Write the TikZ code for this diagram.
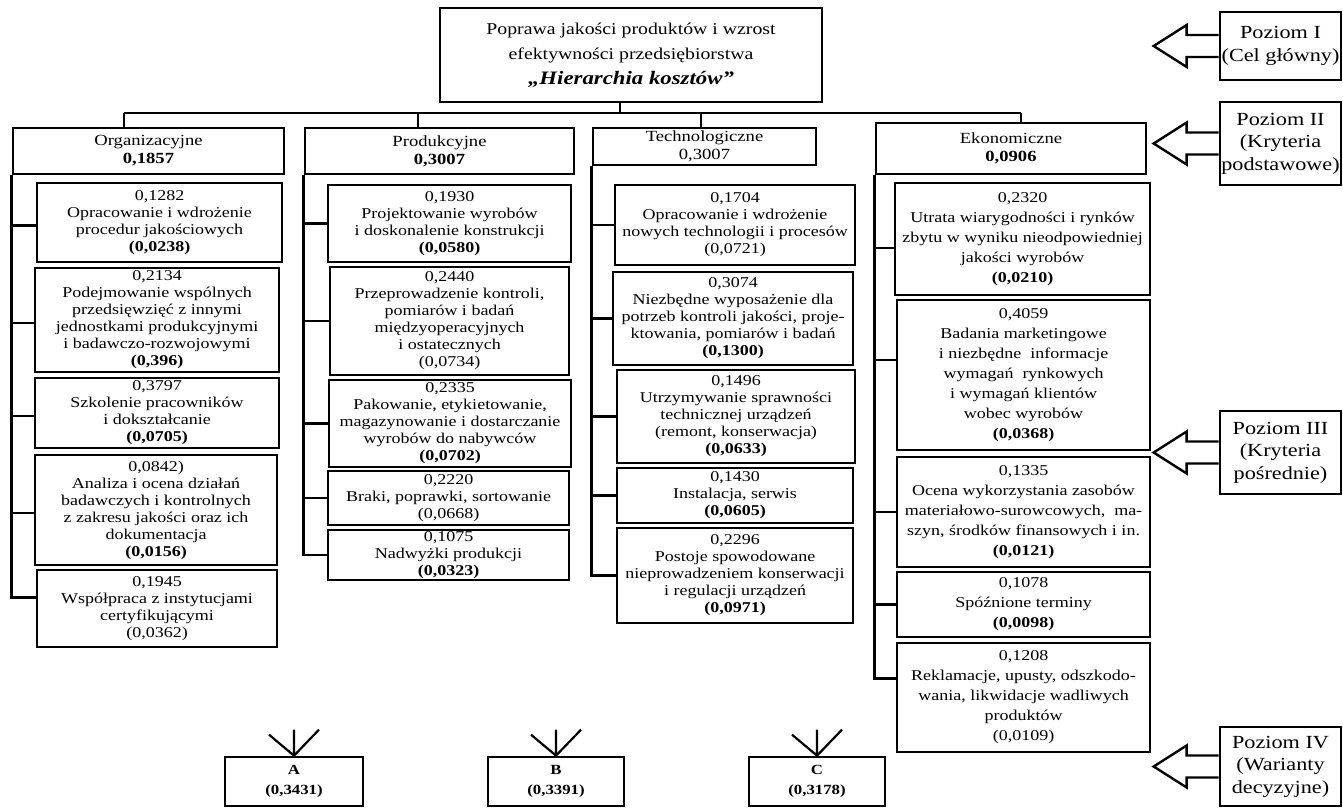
\documentclass[tikz,border=0pt]{standalone}
\usepackage{fontspec}
\setmainfont{Liberation Serif}[FakeStretch=1.2]
% box from (left,top) to (right,bottom) in picture units, with style, name and text
\newcommand\cellbox[7]{\node[#1, minimum width={#4-#2}, minimum height={#5-#3}] (#6) at ({(#2+#4)/2},{(#3+#5)/2}) {#7};}
\begin{document}
\begin{tikzpicture}[x=1pt,y=-1pt,
  box/.style={draw, line width=2.7pt, inner sep=1pt, align=center, fill=white},
  lthree/.style={box, font=\fontsize{15}{17}\selectfont},
  lthreeE/.style={box, font=\fontsize{15}{20}\selectfont},
  ltwo/.style={box, font=\fontsize{15.5}{18}\selectfont},
  lvl/.style={box, inner sep=0pt, font=\fontsize{18.5}{22.5}\selectfont},
  alt/.style={box, font=\fontsize{14}{20}\selectfont\bfseries},
  conn/.style={line width=2.5pt},
  hollow/.style={draw, line width=2.4pt, fill=white, line join=miter},
  vmark/.style={line width=2.2pt}]
\useasboundingbox (0,0) rectangle (1343,810);

% ---- goal ----
\cellbox{box, font=\fontsize{16.5}{25}\selectfont}{440}{8}{822}{102}{goal}{Poprawa jakości produktów i wzrost\\ efektywności przedsiębiorstwa\\ {\fontsize{19}{21}\selectfont\bfseries\itshape „Hierarchia kosztów”}}

% ---- main criteria ----
\cellbox{ltwo}{13}{128}{284}{174}{org}{Organizacyjne\\ \textbf{0,1857}}
\cellbox{ltwo}{305}{128}{574}{174}{prod}{Produkcyjne\\ \textbf{0,3007}}
\cellbox{ltwo}{593}{128}{816}{165}{tech}{Technologiczne\\ 0,3007}
\cellbox{ltwo}{876}{123}{1146}{174}{ekon}{Ekonomiczne\\ \textbf{0,0906}}

% ---- bus from the goal to the main criteria ----
\coordinate (busL) at (124,113);
\coordinate (busR) at (1021,113);
\draw[conn] (busL) -- (busR);
\draw[conn] ([xshift=-11pt]goal.south) -- ([xshift=-11pt]goal.south |- busL);
\draw[conn] ([xshift=-24.5pt]org.north) -- ([xshift=-24.5pt]org.north |- busL);
\draw[conn] ([xshift=-21.5pt]prod.north) -- ([xshift=-21.5pt]prod.north |- busL);
\draw[conn] ([xshift=-3.5pt]tech.north) -- ([xshift=-3.5pt]tech.north |- busL);
\draw[conn] ([xshift=10pt]ekon.north) -- ([xshift=10pt]ekon.north |- busL);

% ---- organisational sub-criteria ----
\cellbox{lthree}{37}{183}{282}{262}{o1}{0,1282\\ Opracowanie i wdrożenie\\ procedur jakościowych\\ \textbf{(0,0238)}}
\cellbox{lthree}{35}{268}{279}{372}{o2}{0,2134\\ Podejmowanie wspólnych\\ przedsięwzięć z innymi\\ jednostkami produkcyjnymi\\ i badawczo-rozwojowymi\\ \textbf{(0,396)}}
\cellbox{lthree}{35}{378}{279}{448}{o3}{0,3797\\ Szkolenie pracowników\\ i dokształcanie\\ \textbf{(0,0705)}}
\cellbox{lthree}{35}{455}{277}{565}{o4}{0,0842)\\ Analiza i ocena działań\\ badawczych i kontrolnych\\ z zakresu jakości oraz ich\\ dokumentacja\\ \textbf{(0,0156)}}
\cellbox{lthree}{37}{570}{277}{647}{o5}{0,1945\\ Współpraca z instytucjami\\ certyfikującymi\\ (0,0362)}

% ---- production sub-criteria ----
\cellbox{lthree}{328}{185}{571}{262}{p1}{0,1930\\ Projektowanie wyrobów\\ i doskonalenie konstrukcji\\ \textbf{(0,0580)}}
\cellbox{lthree}{330}{267}{569}{375}{p2}{0,2440\\ Przeprowadzenie kontroli,\\ pomiarów i badań\\ międzyoperacyjnych\\ i ostatecznych\\ (0,0734)}
\cellbox{lthree}{329}{380}{571}{467}{p3}{0,2335\\ Pakowanie, etykietowanie,\\ magazynowanie i dostarczanie\\ wyrobów do nabywców\\ \textbf{(0,0702)}}
\cellbox{lthree}{328}{471}{569}{525}{p4}{0,2220\\ Braki, poprawki, sortowanie\\ (0,0668)}
\cellbox{lthree}{328}{530}{569}{580}{p5}{0,1075\\ Nadwyżki produkcji\\ \textbf{(0,0323)}}

% ---- technological sub-criteria ----
\cellbox{lthree}{615}{185}{855}{265}{t1}{0,1704\\ Opracowanie i wdrożenie\\ nowych technologii i procesów\\ (0,0721)}
\cellbox{lthree}{613}{272}{853}{365}{t2}{0,3074\\ Niezbędne wyposażenie dla\\ potrzeb kontroli jakości, proje-\\ ktowania, pomiarów i badań\\ \textbf{(0,1300)}}
\cellbox{lthree}{617}{370}{855}{463}{t3}{0,1496\\ Utrzymywanie sprawności\\ technicznej urządzeń\\ (remont, konserwacja)\\ \textbf{(0,0633)}}
\cellbox{lthree}{617}{468}{853}{523}{t4}{0,1430\\ Instalacja, serwis\\ \textbf{(0,0605)}}
\cellbox{lthree}{617}{528}{853}{623}{t5}{0,2296\\ Postoje spowodowane\\ nieprowadzeniem konserwacji\\ i regulacji urządzeń\\ \textbf{(0,0971)}}

% ---- economic sub-criteria ----
\cellbox{lthreeE}{895}{183}{1150}{295}{e1}{0,2320\\ Utrata wiarygodności i rynków\\ zbytu w wyniku nieodpowiedniej\\ jakości wyrobów\\ \textbf{(0,0210)}}
\cellbox{lthreeE}{897}{300}{1150}{450}{e2}{0,4059\\ Badania marketingowe\\ i niezbędne \ informacje\\ wymagań \ rynkowych\\ i wymagań klientów\\ wobec wyrobów\\ \textbf{(0,0368)}}
\cellbox{lthreeE}{897}{457}{1150}{567}{e3}{0,1335\\ Ocena wykorzystania zasobów\\ materiałowo-surowcowych, \ ma-\\ szyn, środków finansowych i in.\\ \textbf{(0,0121)}}
\cellbox{lthreeE}{897}{572}{1150}{637}{e4}{0,1078\\ Spóźnione terminy\\ \textbf{(0,0098)}}
\cellbox{lthreeE}{897}{643}{1150}{752}{e5}{0,1208\\ Reklamacje, upusty, odszkodo-\\ wania, likwidacje wadliwych\\ produktów\\ (0,0109)}

% ---- trunks and branches ----
\draw[conn] (org.south west) |- ([yshift=11pt]o5.west);
\foreach \n in {o1,o2,o3,o4}
  \draw[conn] ([yshift=-3pt]\n.west) -- ([yshift=-3pt]\n.west -| org.south west);
\draw[conn] (prod.south west) |- (p5.west);
\foreach \n in {p1,p2,p3,p4}
  \draw[conn] (\n.west) -- (\n.west -| prod.south west);
\draw[conn] (tech.south west) |- (t5.west);
\foreach \n in {t1,t2,t3,t4}
  \draw[conn] (\n.west) -- (\n.west -| tech.south west);
\draw[conn] (ekon.south west) |- ([yshift=19pt]e5.west);
\draw[conn] ([yshift=-9pt]e1.west) -- ([yshift=-9pt]e1.west -| ekon.south west);
\draw[conn] ([yshift=15pt]e2.west) -- ([yshift=15pt]e2.west -| ekon.south west);
\draw[conn] (e3.west) -- (e3.west -| ekon.south west);
\draw[conn] (e4.west) -- (e4.west -| ekon.south west);

% ---- decision variants ----
\cellbox{alt}{225}{757}{363}{806}{A}{A\\ (0,3431)}
\cellbox{alt}{488}{757}{624}{806}{B}{B\\ (0,3391)}
\cellbox{alt}{749}{757}{885}{806}{C}{C\\ (0,3178)}
\foreach \v in {A,B,C}{
  \coordinate (\v l) at ([shift={(-25,-21)}]\v.north);
  \coordinate (\v m) at ([shift={(0,-26)}]\v.north);
  \coordinate (\v r) at ([shift={(25,-26)}]\v.north);
  \draw[vmark] (\v l) -- (\v.north) (\v m) -- (\v.north) (\v r) -- (\v.north);
}

% ---- level labels with hollow arrows ----
\cellbox{lvl}{1220}{12}{1341}{80}{lvlI}{Poziom I\\ (Cel główny)}
\cellbox{lvl}{1220}{102}{1341}{185}{lvlII}{Poziom II\\ (Kryteria\\ podstawowe)}
\cellbox{lvl}{1220}{411}{1341}{494}{lvlIII}{Poziom III\\ (Kryteria\\ pośrednie)}
\cellbox{lvl}{1220}{727}{1341}{806}{lvlIV}{Poziom IV\\ (Warianty\\ decyzyjne)}
\foreach \L in {lvlI,lvlII,lvlIII,lvlIV}
  \draw[hollow] ([yshift=11pt]\L.west) -- ++(-32,0) -- ++(0,-10) -- ++(-33,21)
    -- ++(33,21) -- ++(0,-10) -- ++(32,0);
\end{tikzpicture}
\end{document}
